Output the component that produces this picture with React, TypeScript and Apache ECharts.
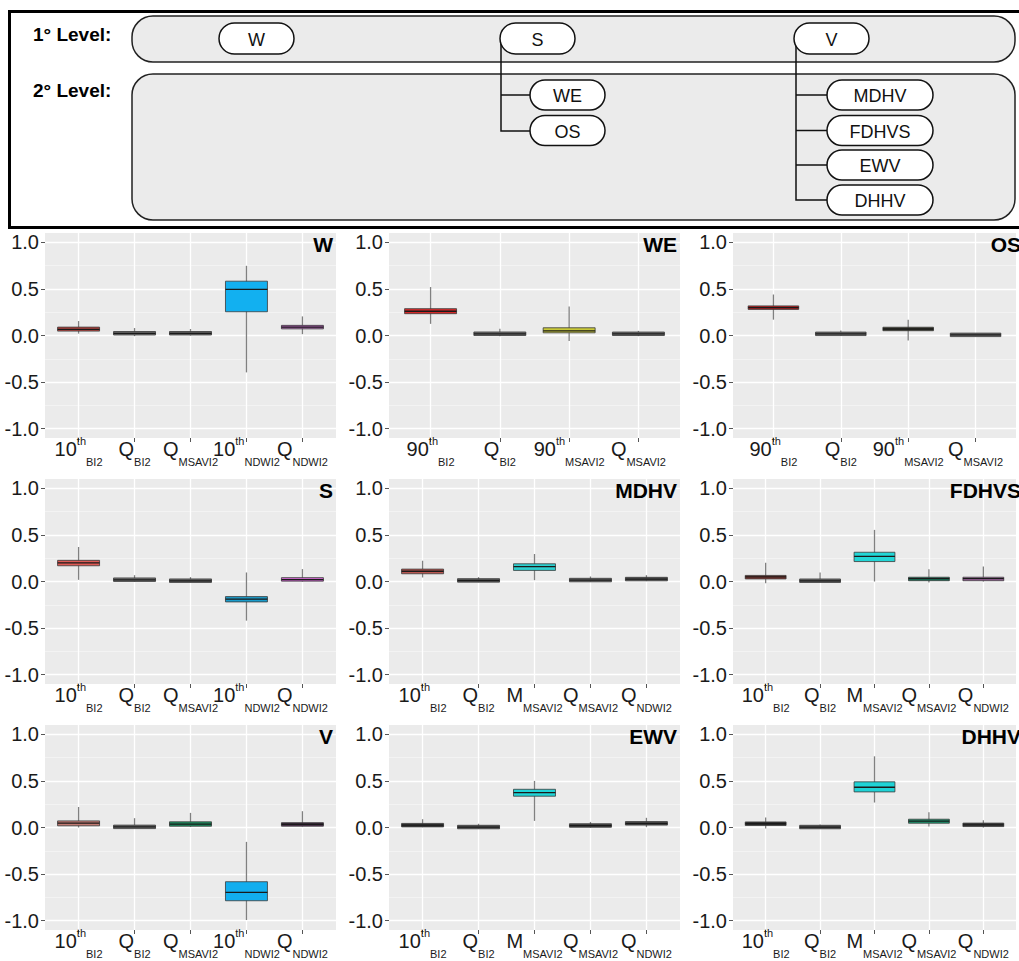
import React, { useEffect, useRef } from 'react';
import * as echarts from 'echarts';

// ---------- tick labels ----------
const LABELS_10_NDWI = [['10', 'th', 'BI2'], ['Q', '', 'BI2'], ['Q', '', 'MSAVI2'], ['10', 'th', 'NDWI2'], ['Q', '', 'NDWI2']];
const LABELS_90 = [['90', 'th', 'BI2'], ['Q', '', 'BI2'], ['90', 'th', 'MSAVI2'], ['Q', '', 'MSAVI2']];
const LABELS_M = [['10', 'th', 'BI2'], ['Q', '', 'BI2'], ['M', '', 'MSAVI2'], ['Q', '', 'MSAVI2'], ['Q', '', 'NDWI2']];
const Y_TICKS = [-1, -0.5, 0, 0.5, 1];
const Y_MINOR = [-0.75, -0.25, 0.25, 0.75];

// ---------- box statistics: [min, q1, median, q3, max] ----------
const W_STATS = [
  [0.02, 0.047, 0.065, 0.09, 0.155],
  [-0.007, 0.014, 0.022, 0.034, 0.08],
  [0.0, 0.015, 0.022, 0.033, 0.07],
  [-0.396, 0.255, 0.496, 0.583, 0.748],
  [0.014, 0.072, 0.09, 0.108, 0.205],
];
const WE_STATS = [
  [0.125, 0.234, 0.26, 0.288, 0.52],
  [-0.007, 0.01, 0.018, 0.028, 0.072],
  [-0.06, 0.029, 0.05, 0.083, 0.31],
  [-0.007, 0.01, 0.018, 0.027, 0.05],
];
const OS_STATS = [
  [0.17, 0.281, 0.3, 0.317, 0.44],
  [0.0, 0.012, 0.018, 0.024, 0.054],
  [-0.054, 0.054, 0.07, 0.086, 0.17],
  [-0.007, 0.002, 0.007, 0.012, 0.025],
];
const S_STATS = [
  [0.018, 0.169, 0.2, 0.227, 0.37],
  [0.0, 0.01, 0.018, 0.029, 0.068],
  [-0.007, 0.0, 0.007, 0.018, 0.047],
  [-0.42, -0.219, -0.19, -0.162, 0.097],
  [0.0, 0.005, 0.02, 0.04, 0.133],
];
const MDHV_STATS = [
  [0.043, 0.083, 0.11, 0.133, 0.223],
  [-0.007, 0.004, 0.011, 0.02, 0.047],
  [0.014, 0.119, 0.16, 0.19, 0.295],
  [0.0, 0.006, 0.014, 0.025, 0.054],
  [0.005, 0.016, 0.025, 0.036, 0.068],
];
const FDHVS_STATS = [
  [-0.018, 0.029, 0.05, 0.064, 0.2],
  [0.0, 0.002, 0.007, 0.015, 0.096],
  [0.0, 0.214, 0.27, 0.314, 0.554],
  [-0.011, 0.011, 0.03, 0.043, 0.132],
  [0.0, 0.011, 0.03, 0.043, 0.16],
];
const V_STATS = [
  [0.0, 0.018, 0.046, 0.071, 0.22],
  [-0.004, 0.0, 0.007, 0.014, 0.1],
  [0.007, 0.014, 0.036, 0.061, 0.157],
  [-0.993, -0.786, -0.696, -0.582, -0.154],
  [0.01, 0.021, 0.035, 0.046, 0.175],
];
const EWV_STATS = [
  [0.004, 0.014, 0.025, 0.036, 0.089],
  [-0.011, -0.004, 0.004, 0.014, 0.04],
  [0.071, 0.336, 0.375, 0.41, 0.5],
  [0.0, 0.011, 0.021, 0.032, 0.06],
  [0.004, 0.032, 0.043, 0.057, 0.104],
];
const DHHV_STATS = [
  [-0.011, 0.025, 0.04, 0.057, 0.107],
  [-0.007, -0.004, 0.004, 0.014, 0.032],
  [0.268, 0.382, 0.432, 0.49, 0.764],
  [0.011, 0.046, 0.068, 0.089, 0.164],
  [0.0, 0.018, 0.028, 0.039, 0.079],
];

// ---------- box fill colours ----------
const W_COLORS = ['#B5443F', '#707070', '#666666', '#12B0F0', '#B45EB9'];
const WE_COLORS = ['#D62828', '#707070', '#C9C938', '#707070'];
const OS_COLORS = ['#B51F1F', '#707070', '#3E3E2C', '#707070'];
const S_COLORS = ['#DE5A55', '#707070', '#666666', '#1A9CCB', '#D466D4'];
const MDHV_COLORS = ['#BB5650', '#666666', '#2DD0D0', '#666666', '#555555'];
const FDHVS_COLORS = ['#8B3A33', '#666666', '#22D6D6', '#167A5E', '#A86AA8'];
const V_COLORS = ['#C27A72', '#707070', '#1A8F5F', '#12AEEE', '#4F2E4F'];
const EWV_COLORS = ['#3A3A3A', '#555555', '#20D5D8', '#444444', '#555555'];
const DHHV_COLORS = ['#333333', '#555555', '#1FD3D6', '#1A9870', '#444444'];

const PANEL_NAMES = ['W', 'WE', 'OS', 'S', 'MDHV', 'FDHVS', 'V', 'EWV', 'DHHV'];
const PANEL_LABELS = [LABELS_10_NDWI, LABELS_90, LABELS_90, LABELS_10_NDWI, LABELS_M, LABELS_M, LABELS_10_NDWI, LABELS_M, LABELS_M];
const PANEL_STATS = [W_STATS, WE_STATS, OS_STATS, S_STATS, MDHV_STATS, FDHVS_STATS, V_STATS, EWV_STATS, DHHV_STATS];
const PANEL_COLORS = [W_COLORS, WE_COLORS, OS_COLORS, S_COLORS, MDHV_COLORS, FDHVS_COLORS, V_COLORS, EWV_COLORS, DHHV_COLORS];

// hierarchy diagram
const LEVEL1 = ['W', 'S', 'V'];
const LEVEL2_S = ['WE', 'OS'];
const LEVEL2_V = ['MDHV', 'FDHVS', 'EWV', 'DHHV'];

const FONT = "'Liberation Sans', Arial, Helvetica, sans-serif";
const COL_LEFT = [45, 389, 733];
const ROW_TOP = [233, 479, 725];
const GRID_W = 291;
const GRID_H = 205;

function renderBox(params: any, api: any) {
  const x = api.value(0);
  const lo = api.coord([x, api.value(1)]);
  const q1 = api.coord([x, api.value(2)]);
  const md = api.coord([x, api.value(3)]);
  const q3 = api.coord([x, api.value(4)]);
  const hi = api.coord([x, api.value(5)]);
  const w = api.size([0.75, 0])[0];
  const fill = api.visual('color');
  const h = Math.max(q1[1] - q3[1], 3.5);
  const top = (q1[1] + q3[1]) / 2 - h / 2;
  return {
    type: 'group',
    children: [
      { type: 'line', shape: { x1: md[0], y1: hi[1], x2: md[0], y2: lo[1] }, style: { stroke: '#808080', lineWidth: 1.3 } },
      { type: 'rect', shape: { x: md[0] - w / 2, y: top, width: w, height: h }, style: { fill, stroke: '#3a3a3a', lineWidth: 0.8 } },
      { type: 'line', shape: { x1: md[0] - w / 2, y1: md[1], x2: md[0] + w / 2, y2: md[1] }, style: { stroke: '#1a1a1a', lineWidth: 1.3 } },
    ],
  };
}

function pill(x: number, y: number, w: number, h: number, label: string) {
  return [
    { type: 'rect', shape: { x, y, width: w, height: h, r: h / 2 }, style: { fill: '#fff', stroke: '#111', lineWidth: 1.5 }, z: 5 },
    {
      type: 'text', x: x + w / 2, y: y + h / 2 + 1, z: 6,
      style: { text: label, fill: '#111', font: `18px ${FONT}`, textAlign: 'center', textVerticalAlign: 'middle' },
    },
  ];
}

export default function App() {
  const ref = useRef<HTMLDivElement>(null);
  useEffect(() => {
    document.body.style.margin = '0';
    if (!ref.current) return;
    const chart = echarts.init(ref.current, null, { renderer: 'svg' });

    const grids: any[] = [];
    const xAxes: any[] = [];
    const yAxes: any[] = [];
    const series: any[] = [];
    const graphics: any[] = [];

    PANEL_NAMES.forEach((name, k) => {
      const r = Math.floor(k / 3);
      const c = k % 3;
      const labels = PANEL_LABELS[k];
      const stats = PANEL_STATS[k];
      const colors = PANEL_COLORS[k];
      const n = labels.length;
      const ticks = labels.map((_, i) => i + 1);
      // an empty label at the axis end keeps the last real label from being treated as the max label
      const labelValues = [...ticks, n + 0.6];
      grids.push({
        left: COL_LEFT[c], top: ROW_TOP[r], width: GRID_W, height: GRID_H,
        show: true, backgroundColor: '#EBEBEB', borderWidth: 0, containLabel: false,
      });
      xAxes.push({
        gridIndex: k, type: 'value', min: 0.4, max: n + 0.6, position: 'bottom',
        axisLine: { show: false, onZero: false },
        axisTick: { show: true, length: 4, lineStyle: { color: '#555', width: 1 }, customValues: ticks },
        splitLine: { show: true, lineStyle: { color: '#ffffff', width: 1.3 } },
        axisLabel: {
          customValues: labelValues,
          hideOverlap: false,
          margin: -8,
          formatter: (v: number) => {
            if (Math.abs(v - Math.round(v)) > 0.01) return '';
            const lab = labels[Math.round(v) - 1];
            if (!lab) return '';
            return `{m|${lab[0]}}` + (lab[1] ? `{sup|${lab[1]}}` : '') + `{sub|${lab[2]}}`;
          },
          rich: {
            m: { fontSize: 20, lineHeight: 37, color: '#1a1a1a', fontFamily: FONT },
            sup: { fontSize: 11, verticalAlign: 'top', padding: [5, 0, 0, 0], color: '#1a1a1a', fontFamily: FONT },
            sub: { fontSize: 11, verticalAlign: 'bottom', color: '#1a1a1a', fontFamily: FONT },
          },
        },
      });
      yAxes.push({
        gridIndex: k, type: 'value', min: -1.1, max: 1.1, position: 'left',
        axisLine: { show: false, onZero: false },
        axisTick: { show: true, length: 4, lineStyle: { color: '#555', width: 1 }, customValues: Y_TICKS },
        axisLabel: {
          customValues: Y_TICKS, margin: 6, fontSize: 20, color: '#1a1a1a', fontFamily: FONT,
          hideOverlap: false,
          formatter: (v: number) => v.toFixed(1),
        },
        splitLine: { show: true, lineStyle: { color: '#ffffff', width: 1.3 } },
      });
      yAxes.push({
        gridIndex: k, type: 'value', min: -1.1, max: 1.1, position: 'right',
        axisLine: { show: false, onZero: false },
        axisTick: { show: false, customValues: Y_MINOR },
        axisLabel: { show: false, customValues: Y_MINOR },
        splitLine: { show: true, lineStyle: { color: '#f7f7f7', width: 0.7 } },
      });
      series.push({
        type: 'custom', xAxisIndex: k, yAxisIndex: 2 * k, renderItem: renderBox, clip: true,
        data: stats.map((s, i) => ({ value: [i + 1, ...s], itemStyle: { color: colors[i] } })),
      });
      graphics.push({
        type: 'text', x: COL_LEFT[c] + GRID_W - 3, y: ROW_TOP[r] + 1, z: 10,
        style: { text: name, fill: '#000', font: `bold 21px ${FONT}`, textAlign: 'right', textVerticalAlign: 'top' },
      });
    });

    // hierarchy box
    graphics.push({ type: 'rect', shape: { x: 9.5, y: 11.5, width: 1040, height: 216 }, style: { fill: '#fff', stroke: '#000', lineWidth: 3 }, z: 1 });
    graphics.push({ type: 'rect', shape: { x: 132, y: 16, width: 883, height: 46, r: 21 }, style: { fill: '#EBEBEB', stroke: '#222', lineWidth: 1.5 }, z: 2 });
    graphics.push({ type: 'rect', shape: { x: 132, y: 74, width: 883, height: 146, r: 21 }, style: { fill: '#EBEBEB', stroke: '#222', lineWidth: 1.5 }, z: 2 });
    graphics.push({ type: 'text', x: 33, y: 34, z: 3, style: { text: '1° Level:', fill: '#000', font: `bold 19px ${FONT}`, textVerticalAlign: 'middle' } });
    graphics.push({ type: 'text', x: 33, y: 90, z: 3, style: { text: '2° Level:', fill: '#000', font: `bold 19px ${FONT}`, textVerticalAlign: 'middle' } });

    // connectors
    const line = (pts: number[][]) => ({ type: 'polyline', shape: { points: pts }, style: { stroke: '#111', lineWidth: 1.5, fill: 'none' }, z: 4 });
    graphics.push(line([[501, 38], [501, 131], [531, 131]]));
    graphics.push(line([[501, 95], [531, 95]]));
    graphics.push(line([[796, 38], [796, 200], [828, 200]]));
    graphics.push(line([[796, 95], [828, 95]]));
    graphics.push(line([[796, 130.5], [828, 130.5]]));
    graphics.push(line([[796, 165], [828, 165]]));

    const l1x = [219, 500, 794];
    LEVEL1.forEach((t, i) => graphics.push(...pill(l1x[i], 23, 75, 31, t)));
    const sY = [80, 115.5];
    LEVEL2_S.forEach((t, i) => graphics.push(...pill(530, sY[i], 75, 30, t)));
    const vY = [80, 115.5, 150, 185];
    LEVEL2_V.forEach((t, i) => graphics.push(...pill(827, vY[i], 106, 30, t)));

    chart.setOption({
      animation: false,
      backgroundColor: '#ffffff',
      textStyle: { fontFamily: FONT },
      grid: grids,
      xAxis: xAxes,
      yAxis: yAxes,
      series,
      graphic: { elements: graphics },
    });
    return () => chart.dispose();
  }, []);
  return <div ref={ref} style={{ width: 1019, height: 961 }} />;
}
